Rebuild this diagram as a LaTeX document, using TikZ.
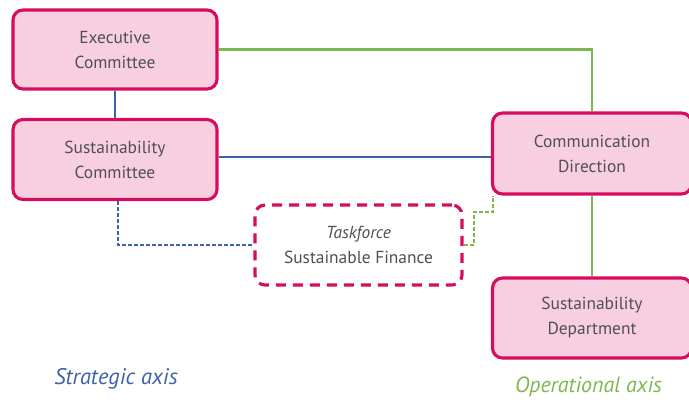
\documentclass[tikz,border=0pt]{standalone}
\usepackage{fontspec}
\setmainfont{PT Sans}
\usetikzlibrary{calc}
\definecolor{boxfill}{HTML}{F8CFE1}
\definecolor{boxline}{HTML}{D60C5E}
\definecolor{boxtext}{HTML}{505050}
\definecolor{axisgreen}{HTML}{7DB84E}
\definecolor{axisblue}{HTML}{3D62A6}
\tikzset{
	unit/.style={draw=boxline, fill=boxfill, line width=1.1mm, rounded corners=10pt, align=center, text=boxtext, font=\fontsize{17.4}{25}\selectfont, inner sep=0pt},
	taskunit/.style={unit, fill=white, dash pattern=on 10pt off 7pt},
	gline/.style={line width=0.75mm, color=axisgreen},
	bline/.style={line width=0.75mm, color=axisblue},
}

\begin{document}
\begin{tikzpicture}[x=1pt, y=-1pt]
		%%%%% START %%%%%
		\useasboundingbox (0, 0) rectangle (689, 402);
		
		\node[unit, minimum width=204pt, minimum height=79pt] (exec) at (115, 49.5) {Executive\\Committee};
		\node[unit, minimum width=204pt, minimum height=80pt] (sustcom) at (115, 159.5) {Sustainability\\Committee};
		\node[unit, minimum width=199pt, minimum height=81pt] (comm) at (592, 153.5) {Communication\\Direction};
		\node[unit, minimum width=199pt, minimum height=80pt] (dept) at (592, 318) {Sustainability\\Department};
		\node[taskunit, minimum width=207pt, minimum height=80pt] (task) at (358.5, 245) {\textit{Taskforce}\\Sustainable Finance};
		
		\draw[gline] (exec.east) -| (comm.north);
		\draw[gline] (comm.south) -- (dept.north);
		\draw[bline] (exec.south) -- (sustcom.north);
		\draw[bline] ([yshift=2.5pt]sustcom.east) -- ([yshift=2.5pt]sustcom.east -| comm.west);
		
		\draw[bline, dash pattern=on 4pt off 2pt] ([xshift=3pt]sustcom.south) |- (task.west);
		\draw[gline, dash pattern=on 4pt off 2pt] (task.east) -| ++(10, -33) -| ([xshift=2pt]comm.south west);
		
		\node[text=axisblue, font=\fontsize{22.5}{25}\selectfont\itshape] (strat) at (116, 379) {Strategic axis};
		\node[text=axisgreen, font=\fontsize{22}{25}\selectfont\itshape] (oper) at (588.5, 387) {Operational axis};
		
		%%%%% END %%%%%
	\end{tikzpicture}
\end{document}
